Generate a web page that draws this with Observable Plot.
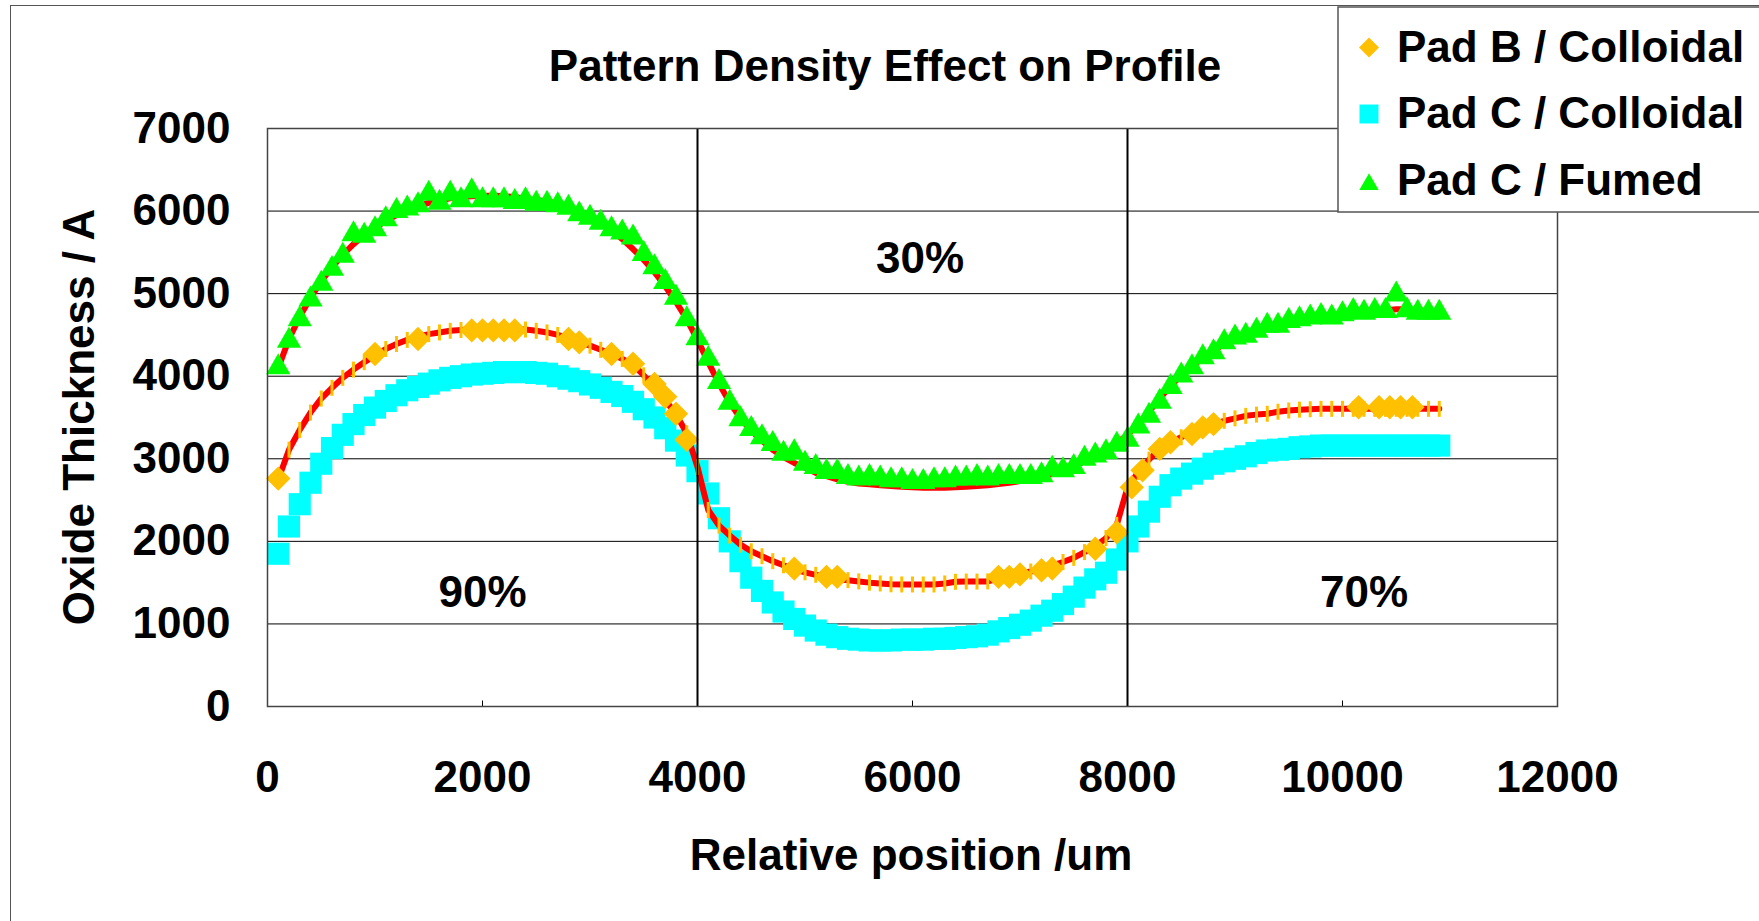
<!DOCTYPE html>
<html><head><meta charset="utf-8">
<script src="https://cdn.jsdelivr.net/npm/d3@7"></script>
<script src="https://cdn.jsdelivr.net/npm/@observablehq/plot@0.6"></script>
<style>
html,body{margin:0;padding:0;background:#fff;}
#wrap{position:relative;width:1759px;height:921px;overflow:hidden;background:#fff;}
#wrap svg{position:absolute;left:0;top:0;}
#outer{position:absolute;left:10px;top:5px;width:1800px;height:1000px;border:1.5px solid #555;box-sizing:border-box;}
</style></head>
<body><div id="wrap"><div id="outer"></div></div>
<script>
const FONT = "'Liberation Sans', Arial, Helvetica, sans-serif";

const title = "Pattern Density Effect on Profile";
const xLabel = "Relative position /um";
const yLabel = "Oxide Thickness / A";
const seriesNames = ["Pad B / Colloidal", "Pad C / Colloidal", "Pad C / Fumed"];
const seriesColors = ["#FFC000", "#00FFFF", "#00FF00"];
const modelColor = "#FF0000";

const xTicks = [0, 2000, 4000, 6000, 8000, 10000, 12000];
const yTicks = [0, 1000, 2000, 3000, 4000, 5000, 6000, 7000];
const boundaries = [4000, 8000];
const densityLabels = ["90%", "30%", "70%"];
const densityX = [2000, 6070, 10200];
const densityY = [1380, 5420, 1380];

const positions = [
  100,200,300,400,500,600,700,800,900,1000,
  1100,1200,1300,1400,1500,1600,1700,1800,1900,2000,
  2100,2200,2300,2400,2500,2600,2700,2800,2900,3000,
  3100,3200,3300,3400,3500,3600,3700,3800,3900,4000,
  4100,4200,4300,4400,4500,4600,4700,4800,4900,5000,
  5100,5200,5300,5400,5500,5600,5700,5800,5900,6000,
  6100,6200,6300,6400,6500,6600,6700,6800,6900,7000,
  7100,7200,7300,7400,7500,7600,7700,7800,7900,8000,
  8100,8200,8300,8400,8500,8600,8700,8800,8900,9000,
  9100,9200,9300,9400,9500,9600,9700,9800,9900,10000,
  10100,10200,10300,10400,10500,10600,10700,10800,10900
];

// Pad C / Colloidal (cyan squares)
const padCColloidal = [
  1850,2180,2450,2710,2940,3130,3290,3420,3530,3620,
  3700,3770,3830,3870,3910,3950,3980,4000,4020,4030,
  4040,4050,4050,4050,4040,4030,4000,3970,3940,3900,
  3860,3810,3760,3690,3600,3500,3370,3220,3040,2850,
  2580,2280,2000,1760,1560,1400,1260,1150,1060,980,
  920,870,840,820,810,800,800,800,810,810,
  810,820,820,830,840,850,870,910,950,990,
  1040,1100,1160,1240,1330,1440,1540,1620,1780,2000,
  2180,2360,2540,2680,2760,2820,2880,2940,2970,3000,
  3030,3070,3100,3110,3120,3140,3150,3160,3160,3160,
  3160,3160,3160,3160,3160,3160,3160,3160,3160
];

// Pad B model curve (red line with orange dash markers)
const padBModel = [
  2750,3110,3350,3560,3730,3860,3980,4080,4170,4250,
  4330,4390,4440,4480,4510,4530,4550,4560,4565,4565,
  4565,4565,4565,4565,4550,4530,4500,4460,4410,4370,
  4320,4270,4210,4140,4010,3860,3710,3540,3310,2900,
  2380,2190,2070,1960,1880,1820,1760,1710,1665,1625,
  1595,1570,1545,1530,1515,1500,1490,1480,1478,1478,
  1478,1478,1490,1510,1513,1513,1515,1550,1580,1610,
  1635,1670,1710,1750,1800,1870,1940,2040,2200,2650,
  2840,2990,3120,3200,3260,3320,3370,3420,3460,3490,
  3520,3535,3545,3570,3585,3595,3600,3605,3605,3605,
  3605,3605,3605,3605,3605,3605,3605,3605,3605
];

// Pad B / Colloidal (orange diamonds)
const padBX = [100,1000,1400,1900,2000,2100,2200,2300,2800,2900,3200,3400,3600,3700,3800,3900,
  4900,5200,5300,6800,6900,7000,7200,7300,7700,7900,8040,8140,8300,8400,8600,8700,8800,
  10150,10340,10440,10540,10650];
const padBY = [2760,4270,4450,4555,4555,4555,4555,4555,4450,4410,4270,4150,3905,3750,3545,3230,
  1670,1570,1570,1570,1570,1600,1650,1670,1910,2110,2655,2860,3120,3200,3300,3380,3420,
  3625,3625,3625,3625,3625];

// Pad C / Fumed (green triangles)
const padCFumed = [
  4110,4430,4690,4930,5120,5300,5460,5720,5700,5780,
  5900,6000,6030,6070,6210,6100,6210,6130,6240,6130,
  6130,6130,6110,6130,6090,6090,6070,6040,5960,5920,
  5860,5780,5740,5680,5480,5320,5140,4950,4690,4460,
  4210,3930,3680,3480,3360,3260,3180,3060,3080,2940,
  2900,2840,2840,2780,2760,2780,2760,2740,2740,2720,
  2720,2740,2740,2760,2760,2780,2760,2780,2780,2780,
  2780,2800,2880,2860,2900,3000,3040,3080,3170,3230,
  3390,3520,3690,3870,4010,4110,4230,4290,4410,4470,
  4490,4550,4610,4610,4670,4690,4710,4730,4710,4750,
  4790,4770,4790,4790,4990,4800,4770,4770,4770
];

// Pad C / Fumed model curve (red line)
const padCFumedModel = [
  4100,4450,4720,4950,5150,5320,5470,5600,5710,5800,
  5880,5950,6010,6060,6100,6130,6155,6170,6180,6185,
  6185,6180,6170,6150,6130,6120,6090,6040,5990,5930,
  5860,5770,5660,5540,5410,5260,5090,4900,4690,4440,
  4170,3910,3680,3490,3340,3220,3110,3020,2950,2890,
  2830,2790,2750,2720,2700,2690,2680,2670,2660,2655,
  2650,2650,2650,2655,2660,2670,2680,2695,2710,2730,
  2750,2780,2820,2860,2910,2970,3040,3110,3190,3290,
  3420,3570,3730,3880,4010,4120,4220,4310,4390,4450,
  4500,4550,4590,4620,4650,4680,4700,4720,4740,4760,
  4770,4780,4790,4800,4810,4810,4800,4790,4790
];

const cyanData = positions.map((x, i) => ({x, y: padCColloidal[i]}));
const padBModelData = positions.map((x, i) => ({x, y: padBModel[i]}));
const padBData = padBX.map((x, i) => ({x, y: padBY[i]}));
const fumedData = positions.map((x, i) => ({x, y: padCFumed[i]}));
const fumedModelData = positions.map((x, i) => ({x, y: padCFumedModel[i]}));

const vbar = {draw(ctx, size) { const r = Math.sqrt(size / Math.PI); ctx.moveTo(0, -r); ctx.lineTo(0, r); }};
const stub = {draw(ctx, size) { const r = Math.sqrt(size / Math.PI); ctx.moveTo(0, 0); ctx.lineTo(0, -r); }};

const chart = Plot.plot({
  width: 1759,
  height: 921,
  marginLeft: 267,
  marginRight: 202,
  marginTop: 128,
  marginBottom: 215,
  style: {fontFamily: FONT, fontSize: "44px", fontWeight: "bold", color: "#000", background: "transparent", overflow: "visible"},
  x: {domain: [0, 12000]},
  y: {domain: [0, 7000]},
  marks: [
    Plot.gridY(yTicks, {stroke: "#000", strokeOpacity: 1, strokeWidth: 1}),
    Plot.dot(cyanData, {x: "x", y: "y", symbol: "square", r: 12.5, fill: seriesColors[1], stroke: "none"}),
    Plot.line(padBModelData, {x: "x", y: "y", stroke: modelColor, strokeWidth: 6}),
    Plot.dot(padBModelData, {x: "x", y: "y", symbol: vbar, r: 8, fill: "none", stroke: seriesColors[0], strokeWidth: 3}),
    Plot.dot(padBData, {x: "x", y: "y", symbol: "diamond2", r: 11, fill: seriesColors[0], stroke: "none"}),
    Plot.line(fumedModelData, {x: "x", y: "y", stroke: modelColor, strokeWidth: 6}),
    Plot.dot(fumedData, {x: "x", y: "y", symbol: "triangle", r: 9, fill: seriesColors[2], stroke: "none"}),
    Plot.ruleX(boundaries, {stroke: "#000", strokeWidth: 2}),
    Plot.dot(xTicks, {x: d => d, y: () => 0, symbol: stub, r: 6, fill: "none", stroke: "#000", strokeWidth: 1}),
    Plot.frame({stroke: "#444", strokeWidth: 1.5}),
    Plot.axisX(xTicks, {tickSize: 0, tickPadding: 54, tickFormat: d => String(d), label: null, fontSize: 44, fontWeight: "bold"}),
    Plot.axisY(yTicks, {tickSize: 0, tickPadding: 37, tickFormat: d => String(d), label: null, fontSize: 44, fontWeight: "bold"}),
    Plot.text(densityLabels, {x: (d, i) => densityX[i], y: (d, i) => densityY[i], text: d => d, fontSize: 44, fontWeight: "bold", fill: "#000"})
  ]
});
document.getElementById("wrap").appendChild(chart);

// Overlay: titles and legend
const ov = d3.select("#wrap").append("svg")
  .attr("width", 1759).attr("height", 921)
  .style("font-family", FONT).style("font-weight", "bold").style("font-size", "44px");
ov.append("text").attr("x", 885).attr("y", 81).attr("text-anchor", "middle").attr("fill", "#000").text(title);
ov.append("text").attr("x", 911).attr("y", 870).attr("text-anchor", "middle").attr("fill", "#000").text(xLabel);
ov.append("text").attr("transform", "translate(94,417) rotate(-90)").attr("text-anchor", "middle").attr("fill", "#000").text(yLabel);

const lg = ov.append("g");
lg.append("rect").attr("x", 1338).attr("y", 7).attr("width", 460).attr("height", 205)
  .attr("fill", "#fff").attr("stroke", "#555").attr("stroke-width", 1.5);
const legendSymbols = [d3.symbolDiamond2, d3.symbolSquare, d3.symbolTriangle];
const legendR = [9, 10.7, 7.2];
const legendCY = [47.5, 114, 184.5];
const legendBase = [62, 128, 195];
seriesNames.forEach((name, i) => {
  lg.append("path")
    .attr("d", d3.symbol(legendSymbols[i], legendR[i] * legendR[i] * Math.PI)())
    .attr("transform", `translate(1369,${legendCY[i]})`)
    .attr("fill", seriesColors[i]);
  lg.append("text").attr("x", 1397).attr("y", legendBase[i]).attr("fill", "#000").text(name);
});
</script>
</body></html>
